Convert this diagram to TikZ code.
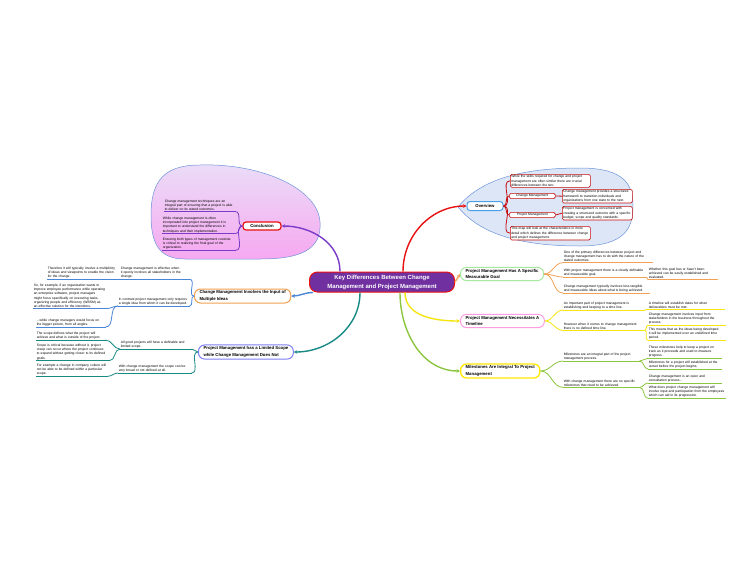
\documentclass[tikz,border=0pt]{standalone}
\usepackage{fontspec}
\setmainfont{Liberation Sans}
\usetikzlibrary{arrows.meta, positioning}
\definecolor{rootpurple}{HTML}{7030A0}
\definecolor{rootred}{HTML}{E81010}
\definecolor{ovblue}{HTML}{4AA0E8}
\definecolor{ovfill}{HTML}{DDE6F7}
\definecolor{ovedge}{HTML}{6C95D9}
\definecolor{ccpink}{HTML}{F6A8F0}
\definecolor{cctop}{HTML}{EBDDF8}
\definecolor{ccline}{HTML}{7A3CC8}
\definecolor{cmorange}{HTML}{F0A050}
\definecolor{cmblue}{HTML}{4A86D8}
\definecolor{limlav}{HTML}{7F7FF5}
\definecolor{limteal}{HTML}{178A85}
\definecolor{goalgreen}{HTML}{A6E8A0}
\definecolor{goalorange}{HTML}{F2A255}
\definecolor{timepink}{HTML}{FF9BE0}
\definecolor{timeyellow}{HTML}{F5E511}
\definecolor{mileyellow}{HTML}{FFE800}
\definecolor{milegreen}{HTML}{8CC63F}
\newcommand\subfont{\fontsize{3.35}{4.3}\selectfont\hyphenpenalty=10000\exhyphenpenalty=10000}
\newcommand\topicfont{\fontsize{4.3}{6.4}\selectfont\bfseries}
\newcommand\rootfont{\fontsize{6}{9}\selectfont\bfseries}
\tikzset{
  root/.style  = {draw=rootred, line width=1pt, rounded corners=8pt, fill=rootpurple,
                  text=white, font=\rootfont, align=center, minimum width=145pt,
                  minimum height=20pt, inner sep=1pt},
  topic/.style = {draw, line width=1pt, rounded corners=6pt, fill=white, align=left,
                  font=\topicfont, inner xsep=5pt, inner ysep=1.8pt, anchor=west},
  sub/.style   = {font=\subfont, align=left, inner sep=0.6pt, anchor=north west},
  obox/.style  = {draw=rootred!85!black, line width=0.6pt, rounded corners=1.5pt,
                  fill=white, font=\subfont, align=left, inner sep=1pt},
  br/.style    = {line width=1.4pt, -{Stealth[length=3.5pt,width=3.5pt]}},
  ln/.style    = {line width=0.8pt},
}
\begin{document}
\begin{tikzpicture}[x=1pt, y=-1pt]
  \useasboundingbox[fill=white] (0,0) rectangle (750,563);
  % balloons
  \draw[ovedge, fill=ovfill, line width=0.5pt] (458,207) .. controls (480,180) and (520,168) .. (580,168)
        .. controls (625,168) and (633,185) .. (633,206) .. controls (633,228) and (625,246) .. (580,246)
        .. controls (520,246) and (480,234) .. (458,207) -- cycle;
  \draw[ovedge, top color=cctop, bottom color=ccpink, line width=0.5pt] (200,165)
        .. controls (260,163) and (318,188) .. (320,222) .. controls (322,250) and (300,259) .. (260,259)
        -- (185,259) .. controls (160,259) and (151,245) .. (151,215)
        .. controls (151,180) and (165,165) .. (200,165) -- cycle;

  % main topics
  \node[root] (root) at (382,282) {Key Differences Between Change\\Management and Project Management};
  \node[draw=ovblue, line width=1pt, rounded corners=3pt, fill=white, font=\topicfont,
        minimum width=36pt, minimum height=9pt, inner sep=1pt] (ov) at (485,206) {Overview};
  \node[draw=rootred, line width=1.2pt, rounded corners=3pt, fill=white, font=\topicfont,
        minimum width=38pt, minimum height=8pt, inner sep=1pt] (conc) at (262,226) {Conclusion};
  \node[topic, draw=cmorange] (cmin) at (194,296)
       {Change Management Involves the Input of\\Multiple Ideas};
  \node[topic, draw=limlav] (limit) at (198,352)
       {Project Management has a Limited Scope\\while Change Management Does Not};
  \node[topic, draw=goalgreen] (goal) at (460,274)
       {Project Management Has A Specific\\Measurable Goal};
  \node[topic, draw=timepink] (time) at (460,321)
       {Project Management Necessitates A\\Timeline};
  \node[topic, draw=mileyellow, line width=1.3pt] (mile) at (460,371)
       {Milestones Are Integral To Project\\Management};

  \draw[br, rootred] ([xshift=21pt]root.north) to[out=90,in=180] (ov.west);
  \draw[br, ccline] ([xshift=-42pt]root.north) to[out=90,in=0] (conc.east);
  \draw[br, cmblue] ([xshift=4pt]root.south west) to[out=180,in=0] (cmin.east);
  \draw[br, limteal] ([xshift=-22pt]root.south) to[out=-90,in=0] (limit.east);
  \draw[br, goalorange] (root.east) -- (goal.west);
  \draw[br, timeyellow] ([xshift=23pt]root.south) to[out=-90,in=180] (time.west);
  \draw[br, milegreen] ([xshift=18pt]root.south) to[out=-90,in=180] (mile.west);

  % overview
  \node[obox, text width=78pt, anchor=north west] (ov1) at (510,174)
       {While the skills required for change and project management are often similar there are crucial differences between the two.};
  \node[obox, minimum width=46pt, anchor=west] (ovcm) at (509,196) {Change Management};
  \node[obox, text width=68pt, anchor=north west] (ovcmt) at (562,189)
       {Change management provides a structured framework to transition individuals and organizations from one state to the next.};
  \node[obox, minimum width=46pt, anchor=west] (ovpm) at (509,215) {Project Management};
  \node[obox, text width=68pt, anchor=north west] (ovpmt) at (562,206)
       {Project management is concerned with creating a structured outcome with a specific budget, scope and quality standards.};
  \node[obox, text width=78pt, anchor=north west] (ov4) at (510,226)
       {This map will look at the characteristics in more detail which defines the difference between change and project management.};
  \foreach \n in {ov1,ovcm,ovpm,ov4}
    \draw[ln, rootred!85!black] (ov.east) to[out=0,in=180] (\n.west);
  \draw[ln, rootred!85!black] (ovcm.east) -- (ovcmt.west);
  \draw[ln, rootred!85!black] (ovpm.east) -- (ovpmt.west);

  % conclusion
  \node[sub, text width=70pt] (cc1) at (164,199)
       {Change management techniques are an integral part of ensuring that a project is able to deliver on its stated outcomes.};
  \node[sub, text width=72pt] (cc2) at (162,216)
       {While change management is often incorporated into project management it is important to understand the differences in techniques and their implementation.};
  \node[sub, text width=72pt] (cc3) at (162,237)
       {Ensuring both types of management coexists is critical to realizing the final goal of the organization.};
  \foreach \n in {cc1,cc2,cc3} {
    \draw[ln, ccline] (\n.south west) -- (\n.south east);
    \draw[ln, ccline] (conc.west) to[out=180,in=0] (\n.south east);
  }

  % change management involves input
  \node[sub, text width=68pt] (cmin1) at (120,266)
       {Change management is effective when it openly involves all stakeholders in the change.};
  \node[sub, text width=68pt] (cmin1a) at (47,266)
       {Therefore it will typically involve a multiplicity of ideas and viewpoints to enable the vision for the change.};
  \node[sub, text width=70pt] (cmin2) at (118,297)
       {In contrast project management only requires a single idea from which it can be developed.};
  \node[sub, text width=72pt] (cmin2a) at (33,283)
       {So, for example, if an organization wants to improve employee performance while operating an enterprise software, project managers might focus specifically on executing tasks, organizing people and efficiency (WBSM) as an effective solution for the intentions.};
  \node[sub, text width=68pt] (cmin2b) at (36,318)
       {...while change managers would focus on the bigger picture, from all angles.};
  \foreach \n in {cmin1,cmin1a,cmin2,cmin2a,cmin2b}
    \draw[ln, cmblue] (\n.south west) -- (\n.south east);
  \draw[ln, cmblue] (cmin.west) to[out=180,in=0] (cmin1.south east);
  \draw[ln, cmblue] (cmin.west) to[out=180,in=0] (cmin2.south east);
  \draw[ln, cmblue] (cmin1.south west) to[out=180,in=0] (cmin1a.south east);
  \draw[ln, cmblue] (cmin2.south west) to[out=180,in=0] (cmin2a.south east);
  \draw[ln, cmblue] (cmin2.south west) to[out=180,in=0] (cmin2b.south east);

  % limited scope
  \node[sub, text width=70pt] (lim1) at (120,340)
       {All good projects will have a definable and limited scope.};
  \node[sub, text width=68pt] (lim1a) at (36,331)
       {The scope defines what the project will achieve and what is outside of the project.};
  \node[sub, text width=72pt] (lim1b) at (36,343)
       {Scope is critical because without it, project creep can occur where the project continues to expand without getting closer to its defined goals.};
  \node[sub, text width=72pt] (lim2) at (118,364)
       {With change management the scope can be very broad or not defined at all.};
  \node[sub, text width=70pt] (lim2a) at (36,363)
       {For example a change in company culture will not be able to be defined within a particular scope.};
  \foreach \n in {lim1,lim1a,lim1b,lim2,lim2a}
    \draw[ln, limteal] (\n.south west) -- (\n.south east);
  \draw[ln, limteal] (limit.west) to[out=180,in=0] (lim1.south east);
  \draw[ln, limteal] (limit.west) to[out=180,in=0] (lim2.south east);
  \draw[ln, limteal] (lim1.south west) to[out=180,in=0] (lim1a.south east);
  \draw[ln, limteal] (lim1.south west) to[out=180,in=0] (lim1b.south east);
  \draw[ln, limteal] (lim2.south west) to[out=180,in=0] (lim2a.south east);

  % measurable goal
  \node[sub, text width=88pt] (goal1) at (563,250)
       {One of the primary differences between project and change management has to do with the nature of the stated outcomes.};
  \node[sub, text width=82pt] (goal2) at (563,268)
       {With project management there is a clearly definable and measurable goal.};
  \node[sub, text width=68pt] (goal2a) at (648,267)
       {Whether this goal has or hasn't been achieved can be easily established and evaluated.};
  \node[sub, text width=85pt] (goal3) at (563,284)
       {Change management typically involves less tangible and measurable ideas about what is being achieved.};
  \foreach \n in {goal1,goal2,goal2a,goal3}
    \draw[ln, goalorange] (\n.south west) -- (\n.south east);
  \foreach \n in {goal1,goal2,goal3}
    \draw[ln, goalorange] (goal.east) to[out=0,in=180] (\n.south west);
  \draw[ln, goalorange] (goal2.south east) to[out=0,in=180] (goal2a.south west);

  % timeline
  \node[sub, text width=80pt] (time1) at (563,301)
       {An important part of project management is establishing and keeping to a time line.};
  \node[sub, text width=75pt] (time1a) at (648,301)
       {A timeline will establish dates for when deliverables must be met.};
  \node[sub, text width=80pt] (time2) at (563,322)
       {However when it comes to change management there is no defined time line.};
  \node[sub, text width=76pt] (time2a) at (648,312)
       {Change management involves input from stakeholders in the business throughout the process.};
  \node[sub, text width=76pt] (time2b) at (648,327)
       {This means that as the ideas being developed it will be implemented over an undefined time period.};
  \foreach \n in {time1,time1a,time2,time2a,time2b}
    \draw[ln, timeyellow] (\n.south west) -- (\n.south east);
  \draw[ln, timeyellow] (time.east) to[out=0,in=180] (time1.south west);
  \draw[ln, timeyellow] (time.east) to[out=0,in=180] (time2.south west);
  \draw[ln, timeyellow] (time1.south east) to[out=0,in=180] (time1a.south west);
  \draw[ln, timeyellow] (time2.south east) to[out=0,in=180] (time2a.south west);
  \draw[ln, timeyellow] (time2.south east) to[out=0,in=180] (time2b.south west);

  % milestones
  \node[sub, text width=75pt] (mile1) at (563,352)
       {Milestones are an integral part of the project management process.};
  \node[sub, text width=72pt] (mile1a) at (648,345)
       {These milestones help to keep a project on track as it proceeds and used to measure progress.};
  \node[sub, text width=72pt] (mile1b) at (648,360)
       {Milestones for a project will established at the outset before the project begins.};
  \node[sub, text width=75pt] (mile2) at (563,379)
       {With change management there are no specific milestones that need to be achieved.};
  \node[sub, text width=72pt] (mile2a) at (648,374)
       {Change management is an open and consultation process...};
  \node[sub, text width=76pt] (mile2b) at (648,385)
       {What does project change management will involve input and participation from the employees which can aid in its progression.};
  \foreach \n in {mile1,mile1a,mile1b,mile2,mile2a,mile2b}
    \draw[ln, milegreen] (\n.south west) -- (\n.south east);
  \draw[ln, milegreen] (mile.east) to[out=0,in=180] (mile1.south west);
  \draw[ln, milegreen] (mile.east) to[out=0,in=180] (mile2.south west);
  \draw[ln, milegreen] (mile1.south east) to[out=0,in=180] (mile1a.south west);
  \draw[ln, milegreen] (mile1.south east) to[out=0,in=180] (mile1b.south west);
  \draw[ln, milegreen] (mile2.south east) to[out=0,in=180] (mile2a.south west);
  \draw[ln, milegreen] (mile2.south east) to[out=0,in=180] (mile2b.south west);
\end{tikzpicture}
\end{document}
